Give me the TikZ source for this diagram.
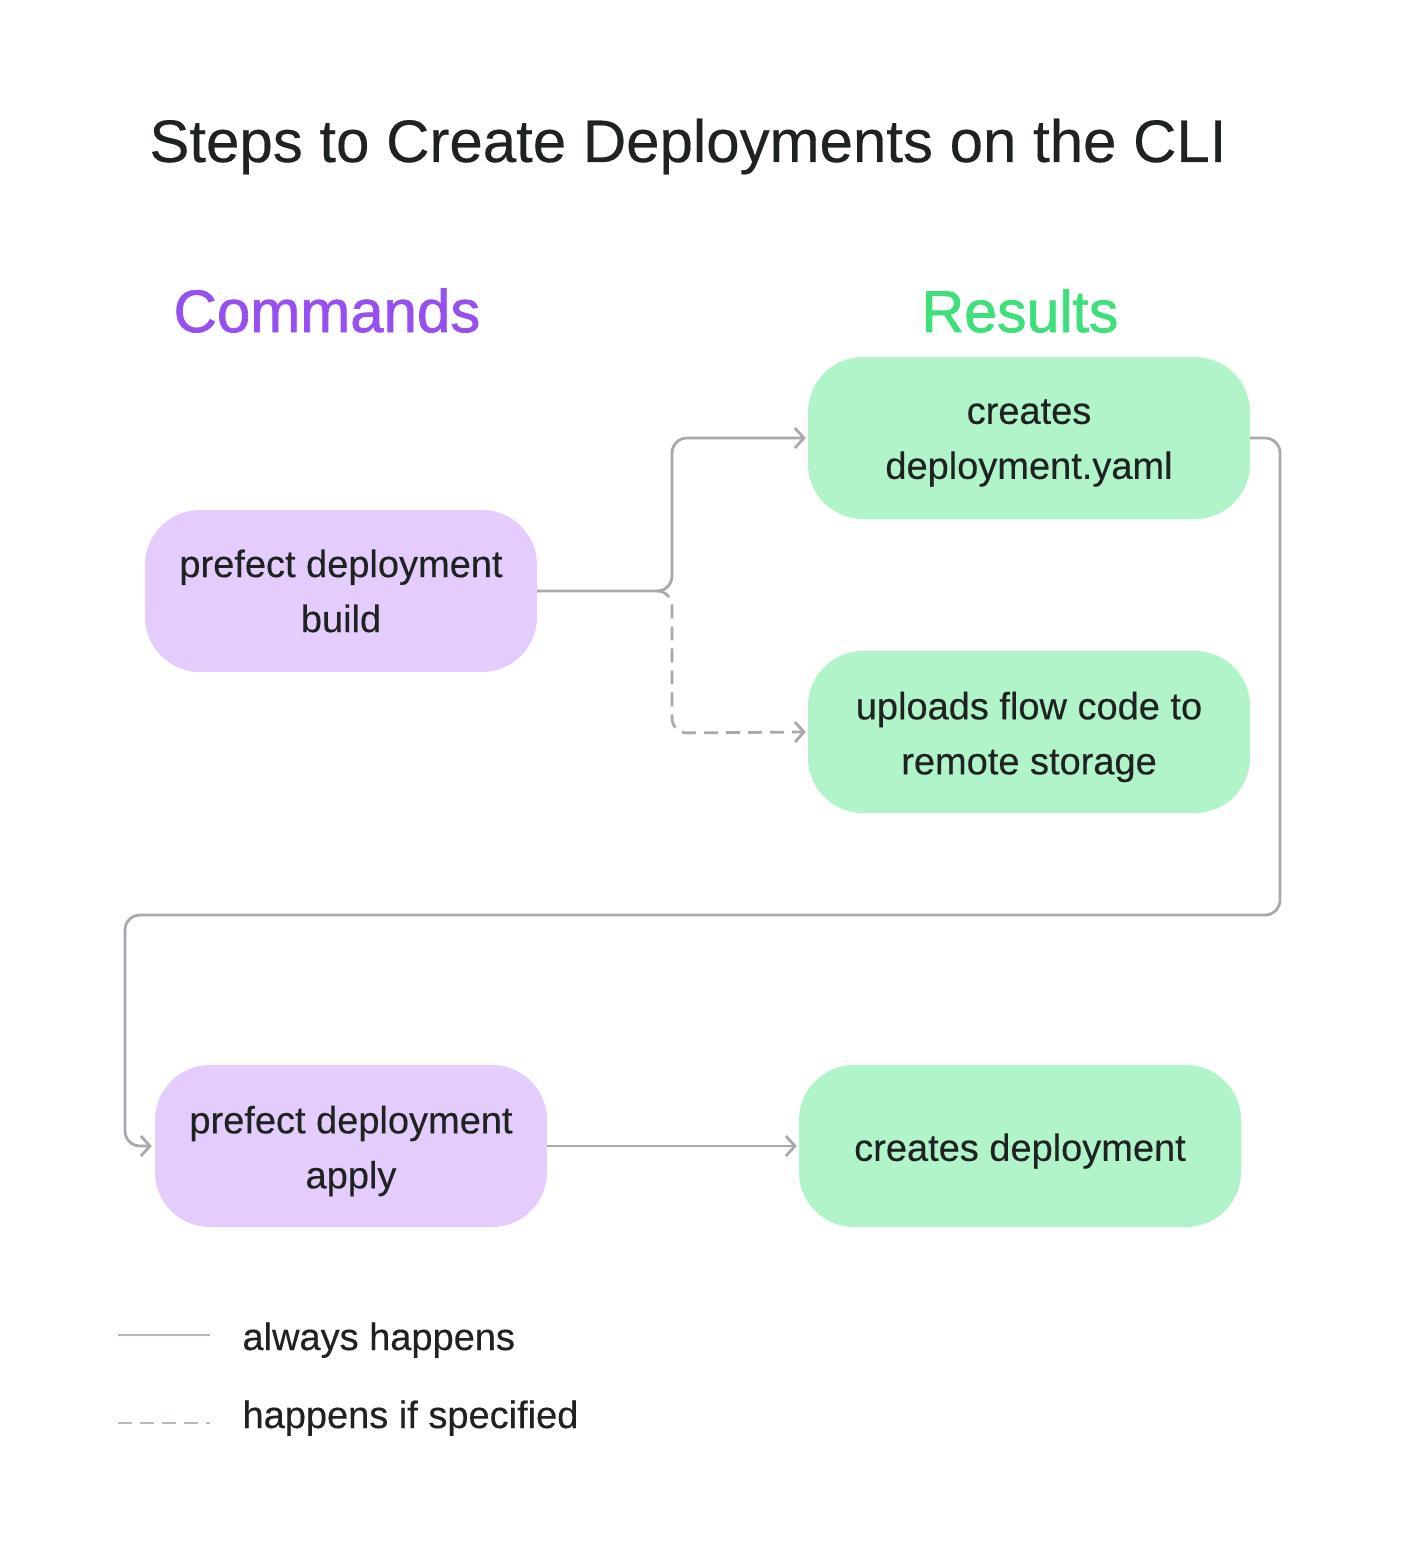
\documentclass[tikz,border=0pt]{standalone}
\usepackage{fontspec}
\setmainfont{Liberation Sans}[FakeBold=0.3]
\newfontfamily\headfont{Liberation Sans}[FakeBold=1.2]
\usetikzlibrary{arrows.meta}
\definecolor{cmdfill}{HTML}{E4CCFD}
\definecolor{resfill}{HTML}{B1F4CA}
\definecolor{conngray}{HTML}{A8A9AE}
\definecolor{txt}{HTML}{1E2221}
\definecolor{cmdpurple}{HTML}{9650F0}
\definecolor{resgreen}{HTML}{3EE07C}
\definecolor{legsolid}{HTML}{B8B2C6}
\definecolor{legdash}{HTML}{B3BDB8}
\begin{document}
\begin{tikzpicture}[x=1pt,y=-1pt,
  box/.style={rounded corners=55pt, minimum height=162pt, inner sep=0pt},
  cmdbox/.style={box, fill=cmdfill, minimum width=392pt},
  resbox/.style={box, fill=resfill, minimum width=442pt},
  boxtext/.style={align=center, inner sep=0pt, text=txt, font=\fontsize{38}{55}\selectfont},
  conn/.style={draw=conngray, line width=2.8pt, rounded corners=15pt,
    -{Straight Barb[length=9pt,width=20pt,line width=2.8pt]}},
  dashconn/.style={conn, dash pattern=on 14pt off 8pt},
  legtext/.style={anchor=base west, text=txt, font=\fontsize{38}{46}\selectfont}
]
\useasboundingbox[fill=white] (0,0) rectangle (1400,1554);

\node[anchor=base, text=txt, font=\fontsize{60}{70}\selectfont] (title) at (688,162) {Steps to Create Deployments on the CLI};
\node[anchor=base, text=cmdpurple, font=\headfont\fontsize{60}{70}\selectfont] (cmdhead) at (327,332) {Commands};
\node[anchor=base, text=resgreen, font=\headfont\fontsize{59}{70}\selectfont] (reshead) at (1020,332) {Results};

\node[cmdbox] (build) at (341,591) {};
\node[cmdbox] (apply) at (351,1146) {};
\node[resbox] (yaml) at (1029,438) {};
\node[resbox] (upload) at (1029,732) {};
\node[resbox] (created) at (1020,1146) {};

\node[boxtext] (build-t) at (build.center) {prefect deployment\\build};
\node[boxtext] (apply-t) at ([yshift=-5pt]apply.center) {prefect deployment\\apply};
\node[boxtext] (yaml-t) at ([yshift=-5pt]yaml.center) {creates\\deployment.yaml};
\node[boxtext] (upload-t) at ([yshift=-5pt]upload.center) {uploads flow code to\\remote storage};
\node[boxtext] (created-t) at ([yshift=-5pt]created.center) {creates deployment};

\coordinate (junction) at (657,591);
\draw[conn] (build.east) -- (672,591) -- (672,438) -- ([xshift=-2pt]yaml.west);
\draw[dashconn] (junction) -- (672,591) -- (672,733) -- ([xshift=-2pt]upload.west);
\draw[conn] (yaml.east) -- (1280,438) -- (1280,915) -- (125,915) -- (125,1146) -- ([xshift=-3pt]apply.west);
\draw[conn] (apply.east) -- ([xshift=-2pt]created.west);

\coordinate (ls1) at (118,1335);
\coordinate (ls2) at (210,1335);
\coordinate (ld1) at (118,1423);
\coordinate (ld2) at (210,1423);
\draw[legsolid, line width=2.8pt] (ls1) -- (ls2);
\draw[legdash, line width=2.8pt, dash pattern=on 14pt off 8pt] (ld1) -- (ld2);
\node[legtext] (leg1) at (239,1350) {always happens};
\node[legtext] (leg2) at (239,1428) {happens if specified};
\end{tikzpicture}
\end{document}
